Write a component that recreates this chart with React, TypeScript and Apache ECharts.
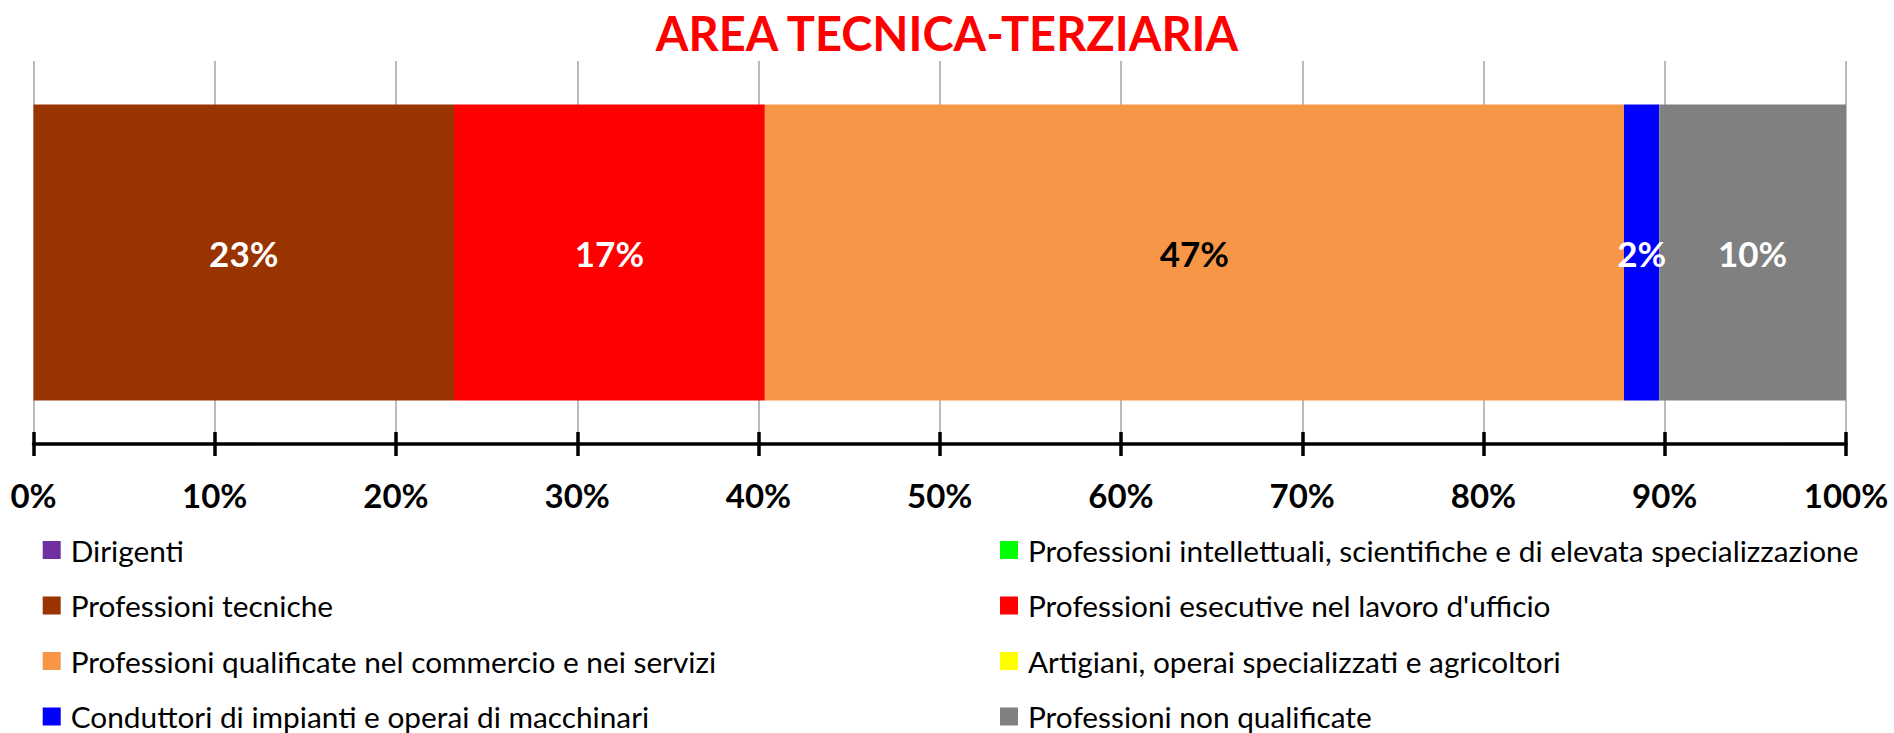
import React, { useEffect, useRef } from "react";
import * as echarts from "echarts";

const TITLE = "AREA TECNICA-TERZIARIA";
const CATEGORY = ["AREA TECNICA-TERZIARIA"];
const SERIES_NAMES = [
  "Dirigenti",
  "Professioni intellettuali, scientifiche e di elevata specializzazione",
  "Professioni tecniche",
  "Professioni esecutive nel lavoro d'ufficio",
  "Professioni qualificate nel commercio e nei servizi",
  "Artigiani, operai specializzati e agricoltori",
  "Conduttori di impianti e operai di macchinari",
  "Professioni non qualificate",
];
const SERIES_VALUES = [0, 0, 23.2, 17.15, 47.4, 0, 1.95, 10.3];
const SERIES_COLORS = ["#7030A0", "#00FF00", "#993300", "#FF0000", "#F79646", "#FFFF00", "#0000FF", "#808080"];
const LABEL_COLORS = ["#FFFFFF", "#FFFFFF", "#FFFFFF", "#FFFFFF", "#000000", "#000000", "#FFFFFF", "#FFFFFF"];
// legend layout: item index -> [column, row]
const LEGEND_COLUMN = [0, 1, 0, 1, 0, 1, 0, 1];
const LEGEND_ROW = [0, 0, 1, 1, 2, 2, 3, 3];

export default function App() {
  const ref = useRef<HTMLDivElement>(null);
  useEffect(() => {
    if (!ref.current) return;
    const chart = echarts.init(ref.current, null, { renderer: "svg" });
    const colLeft = [37.7, 995];
    const rowCenter = [550, 605.5, 661, 716.5];
    const legends = SERIES_NAMES.map((name, i) => ({
      orient: "vertical",
      icon: "rect",
      itemWidth: 18,
      itemHeight: 18,
      selectedMode: false,
      data: [name],
      left: colLeft[LEGEND_COLUMN[i]],
      top: rowCenter[LEGEND_ROW[i]] - 20,
      textStyle: { fontFamily: "Lato", fontSize: 29.8, color: "#000", lineHeight: 30, padding: [0, 0, 0, 5] },
    }));
    chart.setOption({
      animation: false,
      backgroundColor: "#FFFFFF",
      title: {
        text: TITLE,
        left: "center",
        top: 4,
        textStyle: { fontFamily: "Lato", fontWeight: "bold", fontSize: 47, color: "#FF0000" },
      },
      legend: legends,
      grid: { left: 33.5, right: 48, top: 61, bottom: 733 - 444 },
      xAxis: [
        {
          type: "value",
          min: 0,
          max: 100,
          interval: 10,
          position: "bottom",
          axisLine: { show: true, lineStyle: { color: "#000", width: 3.5 } },
          axisTick: { show: true, length: 12, lineStyle: { color: "#000", width: 3.5 } },
          axisLabel: {
            formatter: "{value}%",
            margin: 34,
            fontFamily: "Lato",
            fontWeight: "bold",
            fontSize: 33,
            color: "#000",
          },
          splitLine: { show: true, lineStyle: { color: "#A6A6A6", width: 1.5 } },
        },
        {
          type: "value",
          min: 0,
          max: 100,
          interval: 10,
          position: "bottom",
          axisLine: { show: false },
          axisTick: { show: true, inside: true, length: 12, lineStyle: { color: "#000", width: 3.5 } },
          axisLabel: { show: false },
          splitLine: { show: false },
        },
      ],
      yAxis: { type: "category", data: CATEGORY, show: false },
      series: SERIES_NAMES.map((name, i) => ({
        name,
        type: "bar",
        stack: "total",
        xAxisIndex: 0,
        barWidth: 296,
        itemStyle: { color: SERIES_COLORS[i] },
        label: {
          show: SERIES_VALUES[i] > 0,
          position: "inside",
          formatter: (p: any) => Math.round(p.value) + "%",
          fontFamily: "Lato",
          fontWeight: "bold",
          fontSize: 35,
          color: LABEL_COLORS[i],
        },
        labelLayout: { hideOverlap: false },
        data: [SERIES_VALUES[i]],
      })),
    });
    return () => chart.dispose();
  }, []);
  return <div ref={ref} style={{ position: "fixed", left: 0, top: 0, width: 1894, height: 733 }} />;
}
